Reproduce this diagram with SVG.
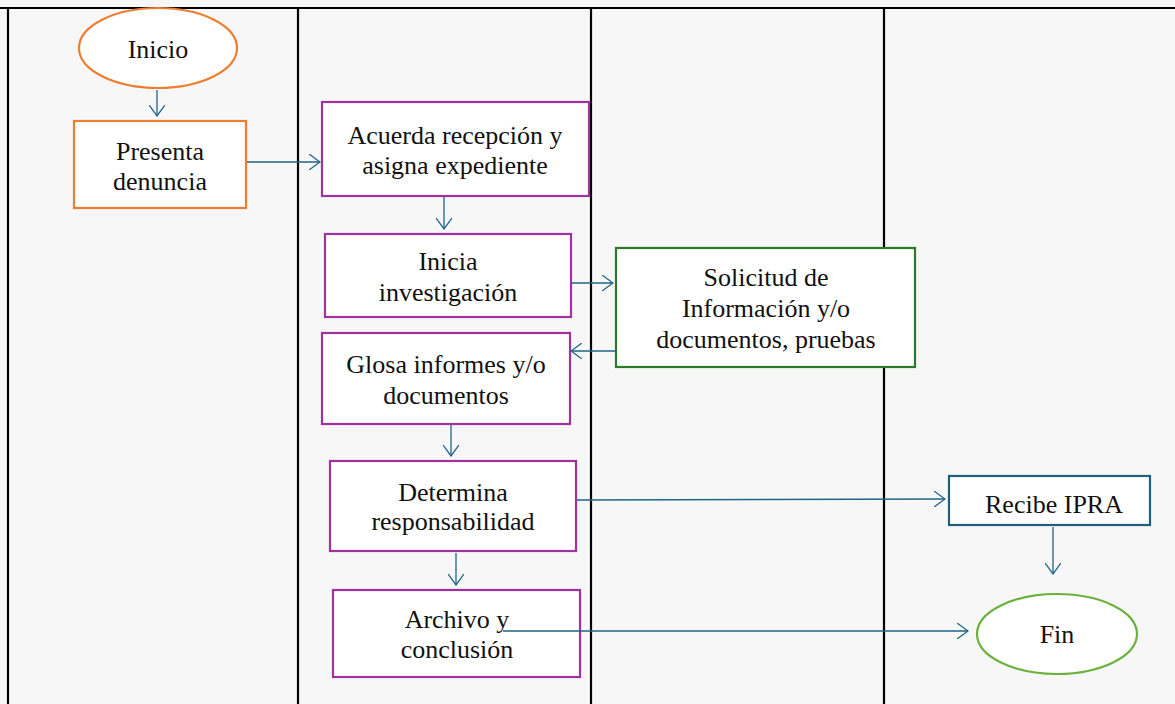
<svg xmlns="http://www.w3.org/2000/svg" width="1175" height="704" viewBox="0 0 1175 704">
  <defs>
    <marker id="arr" viewBox="0 0 12 16" refX="11" refY="8" markerWidth="12" markerHeight="16" markerUnits="userSpaceOnUse" orient="auto">
      <path d="M0,0 L11,8 L0,16" fill="none" stroke="#1f6587" stroke-width="1.3"/>
    </marker>
    <style>
      .lane { stroke: #000; stroke-width: 2.2; fill: none; }
      .box { fill: #fff; stroke-width: 2.2; }
      .orange { stroke: #ed7d31; }
      .purple { stroke: #a0329e; }
      .green { stroke: #2a7a2e; }
      .blue { stroke: #1f5f7d; }
      .lgreen { stroke: #6ab23c; }
      text { font-family: 'Liberation Serif', 'DejaVu Serif', serif; font-size: 26px; fill: #111; text-anchor: middle; }
      .conn { stroke: #1f6587; stroke-width: 1.3; fill: none; marker-end: url(#arr); }
    </style>
  </defs>

  <rect x="0" y="0" width="1175" height="704" fill="#f7f7f7"/>

  <!-- swimlane frame -->
  <g id="lanes">
    <line class="lane" x1="0" y1="8" x2="1175" y2="8"/>
    <line class="lane" x1="8" y1="8" x2="8" y2="704"/>
    <line class="lane" x1="298" y1="8" x2="298" y2="704"/>
    <line class="lane" x1="591" y1="8" x2="591" y2="704"/>
    <line class="lane" x1="884" y1="8" x2="884" y2="704"/>
  </g>

  <g id="inicio">
    <ellipse class="box orange" cx="158" cy="48" rx="79" ry="40"/>
    <text x="158" y="58">Inicio</text>
  </g>

  <g id="presenta">
    <rect class="box orange" x="74" y="121" width="172" height="87"/>
    <text x="160" y="160">Presenta</text>
    <text x="160" y="190">denuncia</text>
  </g>

  <g id="acuerda">
    <rect class="box purple" x="322" y="102" width="267" height="94"/>
    <text x="455" y="144">Acuerda recepción y</text>
    <text x="455" y="174">asigna expediente</text>
  </g>

  <g id="inicia">
    <rect class="box purple" x="325" y="234" width="246" height="83"/>
    <text x="448" y="270">Inicia</text>
    <text x="448" y="301">investigación</text>
  </g>

  <g id="solicitud">
    <rect class="box green" x="616" y="248" width="299" height="119"/>
    <text x="766" y="286">Solicitud de</text>
    <text x="766" y="317">Información y/o</text>
    <text x="766" y="348">documentos, pruebas</text>
  </g>

  <g id="glosa">
    <rect class="box purple" x="322" y="333" width="248" height="91"/>
    <text x="446" y="373">Glosa informes y/o</text>
    <text x="446" y="404">documentos</text>
  </g>

  <g id="determina">
    <rect class="box purple" x="330" y="461" width="246" height="90"/>
    <text x="453" y="501">Determina</text>
    <text x="453" y="530">responsabilidad</text>
  </g>

  <g id="recibe">
    <rect class="box blue" x="949" y="476" width="201" height="49"/>
    <text x="1054" y="513">Recibe IPRA</text>
  </g>

  <g id="archivo">
    <rect class="box purple" x="333" y="590" width="247" height="87"/>
    <text x="457" y="628">Archivo y</text>
    <text x="457" y="658">conclusión</text>
  </g>

  <g id="fin">
    <ellipse class="box lgreen" cx="1057" cy="634" rx="80" ry="40"/>
    <text x="1057" y="643">Fin</text>
  </g>

  <!-- connectors, drawn last so the archive line shows over its box -->
  <g id="connectors">
    <line class="conn" x1="157" y1="90" x2="157" y2="116"/>
    <line class="conn" x1="247" y1="162" x2="320" y2="162"/>
    <line class="conn" x1="444" y1="197" x2="444" y2="229"/>
    <line class="conn" x1="572" y1="283" x2="613" y2="283"/>
    <line class="conn" x1="616" y1="351" x2="571" y2="351"/>
    <line class="conn" x1="451" y1="425" x2="451" y2="456"/>
    <line class="conn" x1="577" y1="500" x2="945" y2="499"/>
    <line class="conn" x1="1053" y1="527" x2="1053" y2="574"/>
    <line class="conn" x1="456" y1="553" x2="456" y2="585"/>
    <line class="conn" x1="503" y1="631" x2="968" y2="631"/>
  </g>
</svg>
